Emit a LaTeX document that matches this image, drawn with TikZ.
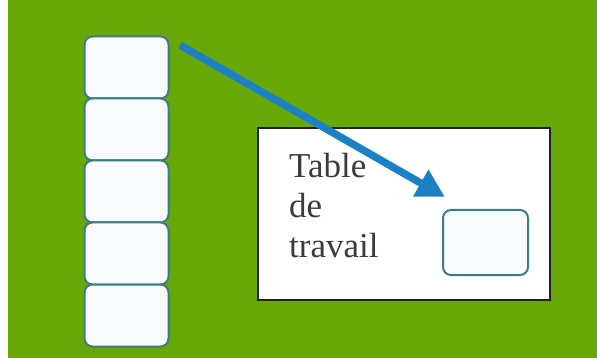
\documentclass[tikz,border=0pt]{standalone}
\usepackage[dvipsnames]{xcolor}
\usepackage{tikz}
\usepackage{fontspec}
\setmainfont{Liberation Serif}
\usetikzlibrary{arrows.meta}

\definecolor{Gazon}{RGB}{104,168,6}
\definecolor{Bordure}{RGB}{62,124,132}
\definecolor{Fond}{RGB}{249,252,255}
\definecolor{Fleche}{RGB}{28,128,196}

\begin{document}
\begin{tikzpicture}[x = 1pt, y = -1pt,
    case/.style = {draw = Bordure, fill = Fond, line width = 2pt, rounded corners = 8pt,
                   minimum width = 84pt, minimum height = 62pt, inner sep = 0pt}]
              \fill [fill = White] (0, 0) rectangle (597, 358);
              \fill [fill = Gazon] (8, 0) rectangle (597, 358);
              \foreach \x in {1, 2, 3, 4, 5}
              \node [case] (case\x) at (126.5, 67.5+62*\x-62) {};
              \node [draw = Black, fill = White, line width = 2pt, minimum width = 292pt,
                     minimum height = 172pt, inner sep = 0pt] (table) at (404, 214) {};
              \node [case, minimum width = 85pt, minimum height = 65pt] (poste) at (485.5, 242.5) {};
              \node [anchor = base west, align = left, inner sep = 0pt, text = Black!88,
                     font = \fontsize{35}{40.5}\selectfont] (titre) at (289, 258) {Table\\de\\travail};
              \coordinate (depart) at (180, 45);
              \coordinate (pointe) at (445, 197);
              \draw [draw = Fleche, line width = 7.5pt, -{Triangle[length = 28pt, width = 29pt]}] (depart) -- (pointe);
            \end{tikzpicture}
\end{document}
